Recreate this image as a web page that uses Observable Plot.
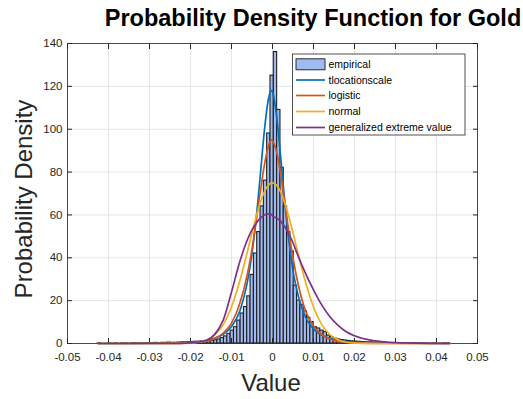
<!DOCTYPE html>
<html><head><meta charset="utf-8">
<script src="https://cdn.jsdelivr.net/npm/d3@7"></script>
<script src="https://cdn.jsdelivr.net/npm/@observablehq/plot@0.6"></script>
<style>
body{margin:0;background:#fff}
#chart{width:523px;height:399px}
</style>
</head><body><div id="chart"></div>
<script>
// ---- data ----
const binStart = -0.04261;
const binWidth = 0.00081;
const density = [
  0.1, 0, 0, 0.1, 0, 0.1, 0, 0.1, 0.1, 0, 0.1, 0.2, 0.1, 0.1, 0.2, 0.1, 0.2, 0.3, 0.2, 0.3,
  0.3, 0.4, 0.3, 0.3, 0.4, 0.5, 0.5, 0.6, 0.7, 0.8, 0.8, 0.9, 1.0,
  1.1, 1.3, 1.5, 1.9, 2.5, 3.3, 4.5, 6, 7.6, 10.7, 14, 17, 22, 32, 42, 52, 64, 76, 98, 125,
  136, 109, 82, 64, 52, 43, 27, 20, 18, 15, 12, 10, 7.6, 7, 6, 5.3, 3.7, 3, 2.3, 1.9,
  1.6, 1.4, 1.2, 1.0, 0.9, 0.8, 0.7, 0.6, 0.5, 0.5, 0.4, 0.3, 0.3, 0.3, 0.2, 0.2, 0.2, 0.1,
  0.2, 0.1, 0.1, 0, 0.1, 0.1, 0, 0.1, 0, 0, 0.1, 0, 0, 0.1, 0.1
];
const curveX = [-0.0425, -0.03, -0.025, -0.02, -0.018, -0.016, -0.014, -0.012, -0.010, -0.008, -0.006, -0.005, -0.004, -0.003, -0.002, -0.001, -0.0003, 0, 0.001, 0.002, 0.003, 0.004, 0.005, 0.006, 0.008, 0.010, 0.012, 0.014, 0.016, 0.018, 0.020, 0.025, 0.03, 0.0432];
const tlocationscale = [0.05, 0.15, 0.3, 0.65, 0.9, 1.6, 2.6, 4.3, 7.9, 15, 30, 42, 58, 78, 99, 114, 118, 117.5, 106, 87, 66, 48, 34, 24.5, 12.5, 6.8, 3.8, 2.3, 1.45, 0.9, 0.6, 0.3, 0.15, 0.05];
const logistic = [0, 0.01, 0.06, 0.3, 0.6, 1.2, 2.4, 4.9, 9.5, 18.5, 33.5, 44, 57, 70.5, 83, 92, 95, 94.5, 89.5, 79, 66, 52, 40, 30, 15.5, 8.3, 4.2, 2.0, 1.0, 0.5, 0.25, 0.05, 0.01, 0];
const normal = [0, 0, 0, 0.2, 0.6, 1.7, 4.1, 8.8, 17, 29, 43.9, 51.7, 59.1, 65.6, 70.7, 73.9, 74.9, 75, 73.9, 70.7, 65.6, 59.1, 51.7, 43.9, 29, 17, 8.8, 4.1, 1.7, 0.6, 0.2, 0, 0, 0];
const gev = [0, 0, 0, 0.3, 0.7, 1.5, 4.5, 11, 24, 38, 49, 53, 56, 58.5, 60, 60.5, 60.3, 59.5, 58.5, 57, 54.5, 51, 47, 42, 33, 25, 18, 12.5, 8.5, 5.5, 3.6, 1.2, 0.4, 0.02];
const xTicks = [-0.05, -0.04, -0.03, -0.02, -0.01, 0, 0.01, 0.02, 0.03, 0.04, 0.05];
const yTicks = [0, 20, 40, 60, 80, 100, 120, 140];
const seriesNames = ["tlocationscale", "logistic", "normal", "generalized extreme value"];
const seriesColors = ["#0072BD", "#D95319", "#EDB120", "#7E2F8E"];
const seriesValues = [tlocationscale, logistic, normal, gev];

// ---- tables ----
const bins = density.map((d, i) => ({x1: binStart + i * binWidth, x2: binStart + (i + 1) * binWidth, y: d}));
const lines = seriesValues.flatMap((vals, s) => vals.map((v, i) => ({x: curveX[i], y: v, s: seriesNames[s]})));

const fmt = d => d === 0 ? "0" : d.toFixed(2);
const font = "'Liberation Sans', Arial, Helvetica, sans-serif";

const plot = Plot.plot({
  width: 523, height: 399,
  marginLeft: 67, marginRight: 46, marginTop: 43, marginBottom: 56,
  x: {domain: [-0.05, 0.05]},
  y: {domain: [0, 140]},
  color: {domain: seriesNames, range: seriesColors},
  style: {fontFamily: font, fontSize: "11.5px", color: "#262626", background: "white", overflow: "visible"},
  marks: [
    Plot.gridX(xTicks, {stroke: "#e6e6e6", strokeOpacity: 1}),
    Plot.gridY(yTicks, {stroke: "#e6e6e6", strokeOpacity: 1}),
    Plot.rectY(bins, {x1: "x1", x2: "x2", y: "y", fill: "#a0baf2", stroke: "#1e1e1e", strokeWidth: 1.1}),
    Plot.frame({stroke: "#262626", strokeWidth: 0.8}),
    Plot.axisX(xTicks, {anchor: "bottom", tickSize: -5, tickPadding: 14, tickFormat: fmt, label: null, stroke: "#262626"}),
    Plot.axisX(xTicks, {anchor: "top", tickSize: -5, tickFormat: () => "", label: null, stroke: "#262626"}),
    Plot.axisY(yTicks, {anchor: "left", tickSize: -5, tickPadding: 10, tickFormat: d => String(d), label: null, stroke: "#262626"}),
    Plot.axisY(yTicks, {anchor: "right", tickSize: -5, tickFormat: () => "", label: null, stroke: "#262626"}),
    Plot.line(lines, {x: "x", y: "y", z: "s", stroke: "s", strokeWidth: 1.7, curve: "monotone-x"})
  ]
});
document.getElementById("chart").appendChild(plot);

// ---- titles and legend ----
const svg = d3.select(plot);
svg.append("text").attr("x", 313).attr("y", 26).attr("text-anchor", "middle")
  .style("font", `bold 23.5px ${font}`).attr("fill", "#000").text("Probability Density Function for Gold");
svg.append("text").attr("transform", "translate(32,199) rotate(-90)").attr("text-anchor", "middle")
  .style("font", `24px ${font}`).attr("fill", "#262626").text("Probability Density");
svg.append("text").attr("x", 271).attr("y", 391).attr("text-anchor", "middle")
  .style("font", `24px ${font}`).attr("fill", "#262626").text("Value");

const lg = svg.append("g");
lg.append("rect").attr("x", 292.5).attr("y", 54).attr("width", 172.5).attr("height", 81)
  .attr("fill", "#fff").attr("stroke", "#262626").attr("stroke-width", 0.8);
const rowY = [64.3, 80, 95.5, 111.5, 127.5];
lg.append("rect").attr("x", 296).attr("y", rowY[0] - 5.5).attr("width", 29).attr("height", 11)
  .attr("fill", "#a0baf2").attr("stroke", "#1a1a1a").attr("stroke-width", 0.9);
lg.append("text").attr("x", 328.5).attr("y", rowY[0]).attr("dy", "0.35em").attr("text-anchor", "start")
  .style("font", `10.5px ${font}`).attr("fill", "#000").text("empirical");
seriesNames.forEach((n, i) => {
  const y = rowY[i + 1];
  lg.append("line").attr("x1", 296).attr("x2", 325).attr("y1", y).attr("y2", y)
    .attr("stroke", seriesColors[i]).attr("stroke-width", 1.7);
  lg.append("text").attr("x", 328.5).attr("y", y).attr("dy", "0.35em").attr("text-anchor", "start")
    .style("font", `10.5px ${font}`).attr("fill", "#000").text(n);
});
</script>
</body></html>
